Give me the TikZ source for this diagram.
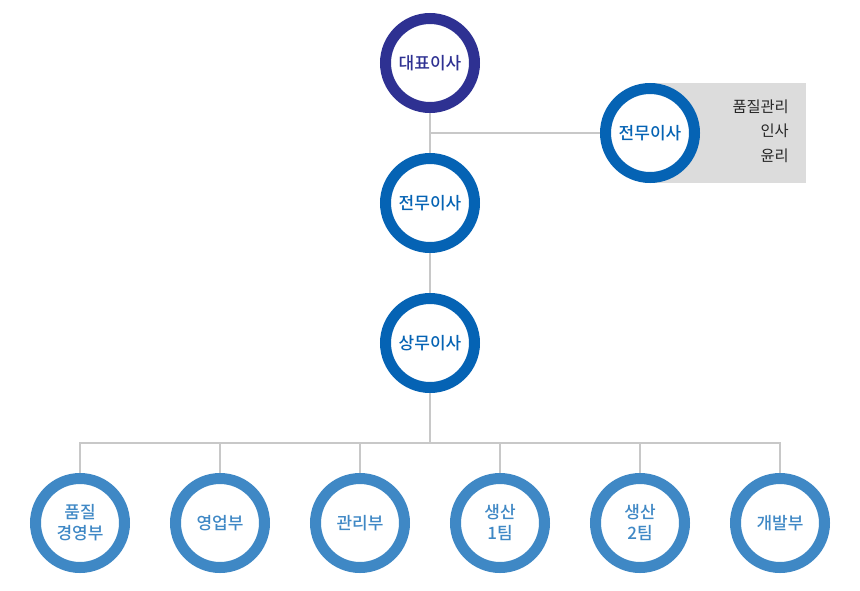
\documentclass[tikz,border=0pt]{standalone}
\usepackage{fontspec}
\newfontfamily\kr{Noto Sans CJK KR Medium}
\newfontfamily\krr{Noto Sans CJK KR}
\definecolor{navy}{HTML}{2E3192}
\definecolor{midblue}{HTML}{0563B4}
\definecolor{lightblue}{HTML}{3F88C5}
\definecolor{linegray}{HTML}{C8C8C8}
\definecolor{boxgray}{HTML}{DCDCDC}
\begin{document}
\begin{tikzpicture}[x=1pt,y=-1pt,
  ring/.style={circle, draw=#1, fill=white, line width=11pt, minimum size=89pt, inner sep=0pt,
    text=#1, font=\kr\fontsize{17}{21}\selectfont, align=center},
  conn/.style={draw=linegray, line width=2pt},
  side/.style={anchor=east, inner sep=0pt, font=\krr\fontsize{15.3}{17}\selectfont, text=black!85}]
\useasboundingbox (0,0) rectangle (860,590);
\fill[boxgray] (650,83) rectangle (806,183);
\node[ring=navy] (ceo) at (430,63) {대표이사};
\node[ring=midblue] (ed) at (430,203) {전무이사};
\node[ring=midblue] (ed2) at (650,133) {전무이사};
\node[ring=midblue] (md) at (430,343) {상무이사};
\node[side] (s1) at (789,107) {품질관리};
\node[side] (s2) at (789,131) {인사};
\node[side] (s3) at (789,156) {윤리};
\coordinate (j1) at (430,133);
\coordinate (bus) at (430,443);
\foreach \n/\x/\t in {b1/80/{품질\\경영부}, b2/220/영업부, b3/360/관리부, b4/500/{생산\\1팀}, b5/640/{생산\\2팀}, b6/780/개발부}{
  \node[ring=lightblue] (\n) at (\x,523) {\t};
}
\draw[conn] (ceo) -- (ed);
\draw[conn] (j1) -- (ed2);
\draw[conn] (ed) -- (md);
\draw[conn] (md) -- (bus);
\draw[conn] (bus) -| (b1);
\draw[conn] (bus) -| (b6);
\foreach \n in {b2,b3,b4,b5}{
  \draw[conn] (bus -| \n) -- (\n);
}
\end{tikzpicture}
\end{document}
